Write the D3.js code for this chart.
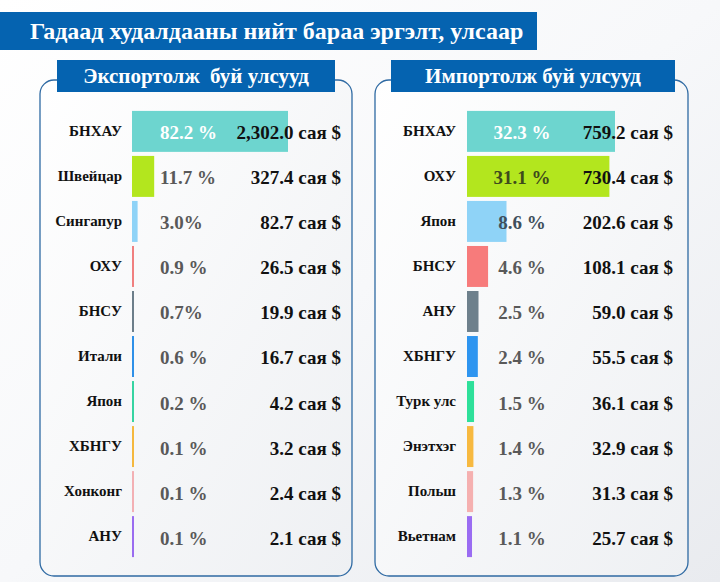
<!DOCTYPE html>
<html><head><meta charset="utf-8">
<script src="https://cdn.jsdelivr.net/npm/d3@7"></script>
<style>html,body{margin:0;padding:0;overflow:hidden;background:#fff}svg{display:block}
text{font-family:"Liberation Serif","Times New Roman",serif;font-weight:bold}</style>
</head><body>
<svg id="c" width="720" height="582"></svg>
<script>
const title = "Гадаад худалдааны нийт бараа эргэлт, улсаар";
const exportTitle = "Экспортолж  буй улсууд";
const importTitle = "Импортолж буй улсууд";

const exportCountries = ["БНХАУ","Швейцар","Сингапур","ОХУ","БНСУ","Итали","Япон","ХБНГУ","Хонконг","АНУ"];
const exportValues = [2302.0, 327.4, 82.7, 26.5, 19.9, 16.7, 4.2, 3.2, 2.4, 2.1];
const exportShares = ["82.2 %","11.7 %","3.0%","0.9 %","0.7%","0.6 %","0.2 %","0.1 %","0.1 %","0.1 %"];
const exportValueLabels = ["2,302.0 сая $","327.4 сая $","82.7 сая $","26.5 сая $","19.9 сая $","16.7 сая $","4.2 сая $","3.2 сая $","2.4 сая $","2.1 сая $"];

const importCountries = ["БНХАУ","ОХУ","Япон","БНСУ","АНУ","ХБНГУ","Турк улс","Энэтхэг","Польш","Вьетнам"];
const importValues = [759.2, 730.4, 202.6, 108.1, 59.0, 55.5, 36.1, 32.9, 31.3, 25.7];
const importShares = ["32.3 %","31.1 %","8.6 %","4.6 %","2.5 %","2.4 %","1.5 %","1.4 %","1.3 %","1.1 %"];
const importValueLabels = ["759.2 сая $","730.4 сая $","202.6 сая $","108.1 сая $","59.0 сая $","55.5 сая $","36.1 сая $","32.9 сая $","31.3 сая $","25.7 сая $"];

const exportColors = ["#6dd5cf","#b3e61e","#8fd3f7","#f07f7f","#6c7e8a","#2e90e8","#36d4a2","#f5b83e","#f3b0b4","#9a6cf0"];
const importColors = ["#6dd5cf","#b3e61e","#8fd3f7","#f77b7b","#6e808c","#2e95f0","#2ee09a","#f7b940","#f5b0b0","#9a6cf2"];
const exportShareColors = ["#ffffff","#595959","#595959","#595959","#595959","#595959","#595959","#595959","#595959","#595959"];
const importShareColors = ["#ffffff","#3e4a1c","#3f4f5c","#595959","#595959","#595959","#595959","#595959","#595959","#595959"];

const svg = d3.select("#c");
const BLUE = "#0563b0";

const defs = svg.append("defs");
const bg = defs.append("linearGradient").attr("id","bg").attr("x1","0").attr("y1","0").attr("x2","1").attr("y2","1");
bg.append("stop").attr("offset","0").attr("stop-color","#ffffff");
bg.append("stop").attr("offset","0.5").attr("stop-color","#f7f8fa");
bg.append("stop").attr("offset","1").attr("stop-color","#e9ebef");
const pg = defs.append("linearGradient").attr("id","pg").attr("x1","0").attr("y1","0").attr("x2","1").attr("y2","1");
pg.append("stop").attr("offset","0").attr("stop-color","#ffffff");
pg.append("stop").attr("offset","1").attr("stop-color","#eef0f3");

svg.append("rect").attr("width",720).attr("height",582).attr("fill","url(#bg)");

// title
svg.append("rect").attr("x",0).attr("y",12).attr("width",537).attr("height",38).attr("fill",BLUE);
svg.append("text").attr("x",30).attr("y",39).attr("fill","#fff").attr("font-size",24).text(title);

function panel(opt){
  const g = svg.append("g");
  g.append("rect").attr("x",opt.x0).attr("y",80).attr("width",opt.x1-opt.x0).attr("height",496)
    .attr("rx",14).attr("fill","url(#pg)").attr("stroke","#2f6aa3").attr("stroke-width",1.3);
  g.append("rect").attr("x",opt.hx0).attr("y",60).attr("width",opt.hx1-opt.hx0).attr("height",32).attr("fill",BLUE);
  g.append("text").attr("x",(opt.hx0+opt.hx1)/2).attr("y",83).attr("text-anchor","middle")
    .attr("fill","#fff").attr("font-size",21)
    .style("white-space","pre").text(opt.title);

  const y = d3.scaleBand().domain(opt.countries).range([110,558]).paddingInner(0.09).paddingOuter(0.02);
  const x = d3.scaleLinear().domain([0,opt.values[0]]).range([opt.barX, opt.barX+opt.maxW]);

  const rows = g.selectAll("g.row").data(opt.countries.map((c,i)=>({c,i,v:opt.values[i]}))).join("g");
  rows.append("rect").attr("x",opt.barX).attr("y",d=>y(d.c)).attr("height",y.bandwidth())
    .attr("width",d=>Math.max(2, x(d.v)-opt.barX)).attr("fill",d=>opt.colors[d.i]);
  rows.append("text").attr("x",opt.labelX).attr("y",d=>y(d.c)+y.bandwidth()/2).attr("dy","0.3em")
    .attr("text-anchor","end").attr("font-size",15)
    .attr("fill","#111").text(d=>d.c);
  rows.append("text").attr("x",opt.shareX).attr("y",d=>y(d.c)+y.bandwidth()/2).attr("dy","0.42em")
    .attr("text-anchor",opt.shareAnchor).attr("font-size",19)
    .attr("fill",d=>opt.shareColors[d.i]).text(d=>opt.shares[d.i]);
  rows.append("text").attr("x",opt.valueX).attr("y",d=>y(d.c)+y.bandwidth()/2).attr("dy","0.42em")
    .attr("text-anchor","end").attr("font-size",19)
    .attr("fill","#111").text(d=>opt.valueLabels[d.i]);
}

panel({x0:40,x1:352,hx0:57,hx1:335,title:exportTitle,countries:exportCountries,values:exportValues,
  shares:exportShares,valueLabels:exportValueLabels,colors:exportColors,shareColors:exportShareColors,
  barX:132,maxW:156,labelX:122,shareX:160,shareAnchor:"start",valueX:341});
panel({x0:375,x1:688,hx0:391,hx1:675,title:importTitle,countries:importCountries,values:importValues,
  shares:importShares,valueLabels:importValueLabels,colors:importColors,shareColors:importShareColors,
  barX:467,maxW:148,labelX:456,shareX:522,shareAnchor:"middle",valueX:673});
</script>
</body></html>
